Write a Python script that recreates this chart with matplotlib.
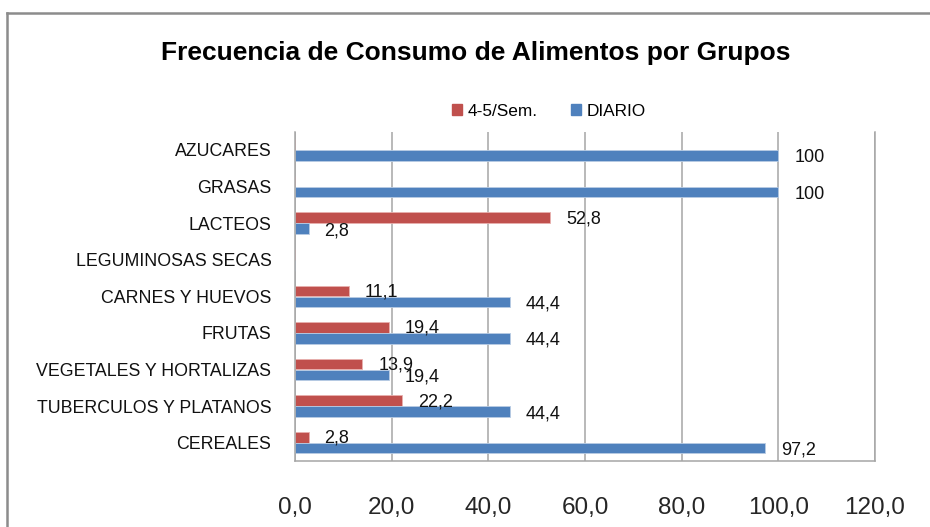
import matplotlib
matplotlib.use("Agg")
import matplotlib.pyplot as plt
from matplotlib.patches import Rectangle
from matplotlib.lines import Line2D

categories = ["AZUCARES", "GRASAS", "LACTEOS", "LEGUMINOSAS SECAS", "CARNES Y HUEVOS",
              "FRUTAS", "VEGETALES Y HORTALIZAS", "TUBERCULOS Y PLATANOS", "CEREALES"]
semanal = [0, 0, 52.8, 0, 11.1, 19.4, 13.9, 22.2, 2.8]
diario = [100, 100, 2.8, 0, 44.4, 44.4, 19.4, 44.4, 97.2]
series_names = ["4-5/Sem.", "DIARIO"]
xticks = [0, 20, 40, 60, 80, 100, 120]
title = "Frecuencia de Consumo de Alimentos por Grupos"

RED = "#C0504D"
BLUE = "#4F81BD"
FONT = ["Liberation Sans", "DejaVu Sans"]

W, H = 930, 527
fig = plt.figure(figsize=(W / 100, H / 100), dpi=100)

# outer chart border (left and top visible)
fig.add_artist(Line2D([7 / W, 7 / W], [0, 1 - 13 / H], transform=fig.transFigure,
                      color="#8c8c8c", lw=1.8))
fig.add_artist(Line2D([7 / W, 1], [1 - 13 / H, 1 - 13 / H], transform=fig.transFigure,
                      color="#8c8c8c", lw=1.8))

left, right = 295 / W, 875 / W
bottom, top = 1 - 461 / H, 1 - 131.7 / H
ax = fig.add_axes([left, bottom, right - left, top - bottom])

ys = list(range(len(categories)))
h = 0.29
off = 0.15
ax.barh([y - off for y in ys], semanal, height=h, color=RED, edgecolor="#e8b0ae", lw=0.6)
ax.barh([y + off for y in ys], diario, height=h, color=BLUE, edgecolor="#b8cce4", lw=0.6)


def fmt(v):
    return str(int(v)) if float(v).is_integer() else f"{v:.1f}".replace(".", ",")


for y, v in zip(ys, semanal):
    if v:
        ax.annotate(fmt(v), xy=(v, y - off), xytext=(16, -1), textcoords="offset pixels",
                    va="center", ha="left", fontsize=13, family=FONT, color="#111111")
for y, v in zip(ys, diario):
    if v:
        ax.annotate(fmt(v), xy=(v, y + off), xytext=(16, -2), textcoords="offset pixels",
                    va="center", ha="left", fontsize=13, family=FONT, color="#111111")

ax.set_xlim(0, 120)
ax.set_ylim(len(categories) - 0.5, -0.5)
ax.set_xticks(xticks)
ax.set_xticklabels([f"{t:.1f}".replace(".", ",") for t in xticks], family=FONT,
                   fontsize=17.5, color="#262626")
ax.set_yticks(ys)
ax.set_yticklabels(categories, family=FONT, fontsize=12.8, color="#111111")
ax.tick_params(axis="x", length=0, pad=26)
ax.tick_params(axis="y", length=0, pad=17)
ax.grid(axis="x", color="#a6a6a6", lw=1.1)
ax.set_axisbelow(True)
ax.spines["top"].set_visible(False)
for s in ["left", "bottom", "right"]:
    ax.spines[s].set_color("#a6a6a6")
    ax.spines[s].set_linewidth(1.1)

t = fig.text(476 / W, 1 - 53 / H, title, ha="center", va="center", fontsize=19,
             fontweight="bold", family=FONT, color="#000000")
# fit title width to the reference width (~628 px)
fig.canvas.draw()
wpx = t.get_window_extent().width
t.set_fontsize(19 * 628 / wpx)

handles = [Rectangle((0, 0), 1, 1, color=RED), Rectangle((0, 0), 1, 1, color=BLUE)]
fig.legend(handles, series_names, loc="center", bbox_to_anchor=(549 / W, 1 - 111 / H),
           ncol=2, frameon=False, prop={"family": FONT, "size": 12.4},
           handlelength=0.6, handleheight=0.6, handletextpad=0.35, columnspacing=1.9)

fig.savefig("out.png", dpi=100)
